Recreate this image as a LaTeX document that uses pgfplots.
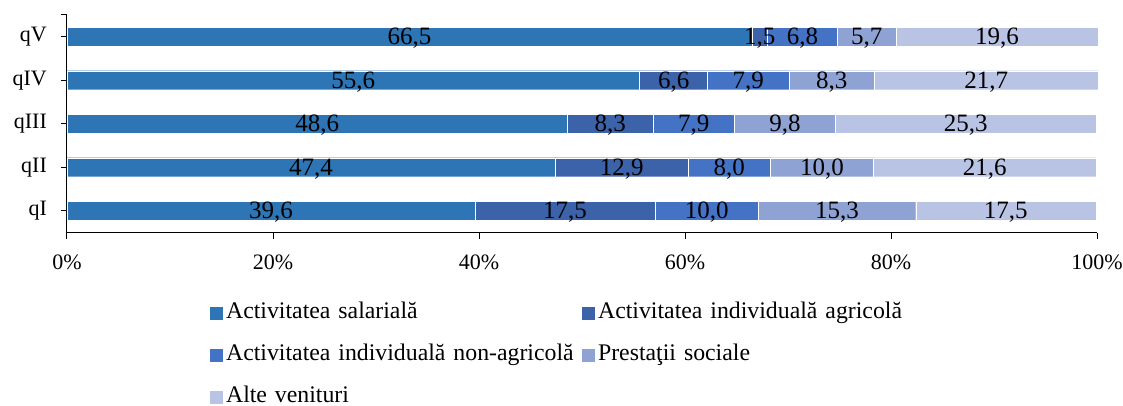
\documentclass[border=0pt]{standalone}
\usepackage{fontspec}
\setmainfont{Liberation Serif}
\usepackage{pgfplots}
\pgfplotsset{compat=1.18}
\usepackage{pgfplotstable}
\definecolor{c1}{RGB}{46,117,182}
\definecolor{c2}{RGB}{60,98,170}
\definecolor{c3}{RGB}{68,114,196}
\definecolor{c4}{RGB}{142,163,211}
\definecolor{c5}{RGB}{185,195,228}
\pgfplotstableread{
q sal agr nag pre alt
0 39.6 17.5 10.0 15.3 17.5
1 47.4 12.9 8.0 10.0 21.6
2 48.6 8.3 7.9 9.8 25.3
3 55.6 6.6 7.9 8.3 21.7
4 66.5 1.5 6.8 5.7 19.6
}\data
\pgfplotsset{
  seg/.style={fill=#1, draw=white, line width=0.4pt,
    nodes near coords={\pgfmathprintnumber[fixed,fixed zerofill,precision=1,use comma]{\pgfplotspointmeta}},
    nodes near coords align={center},
    point meta=rawx,
    every node near coord/.style={anchor=center, text=black, inner sep=0pt, yshift=-1.5pt,
      font=\fontsize{25}{30}\selectfont},
  },
}
\begin{document}
\fontsize{23.8}{28}\selectfont
\begin{tikzpicture}
\begin{axis}[
  xbar stacked, bar width=19pt, clip=false,
  scale only axis, width=1030pt, height=217.5pt,
  xmin=0, xmax=100, ymin=-0.5, ymax=4.5,
  ytick={0,...,4}, yticklabels={qI,qII,qIII,qIV,qV},
  extra y ticks={4.5}, extra y tick labels={},
  xtick={0,20,...,100}, xticklabel={\pgfmathprintnumber{\tick}\%},
  tick label style={font=\fontsize{22}{26}\selectfont},
  xticklabel style={yshift=-8pt},
  yticklabel style={xshift=-6pt},
  /pgf/number format/assume math mode=true,
  axis lines*=left,
  axis line style={black, line width=1pt},
  tick style={black, line width=1pt},
  tick align=outside, major tick length=6pt,
  legend style={draw=none, fill=none, at={(0.1358,-0.30)}, anchor=north west,
    legend columns=2, legend cell align=left,
    nodes={text height=16pt, text depth=6pt, inner sep=3pt, text width=353pt},
    row sep=14pt,
    /tikz/every even column/.append style={column sep=0pt}},
  legend image code/.code={\fill[#1,draw=none] (0pt,-6.5pt) rectangle (13pt,6.5pt);},
]
\addplot[seg=c1] table[x=sal, y=q] {\data};
\addplot[seg=c2] table[x=agr, y=q] {\data};
\addplot[seg=c3] table[x=nag, y=q] {\data};
\addplot[seg=c4] table[x=pre, y=q] {\data};
\addplot[seg=c5] table[x=alt, y=q] {\data};
\legend{Activitatea salarială, Activitatea individuală agricolă, Activitatea individuală non-agricolă, Prestaţii sociale, Alte venituri}
\end{axis}
\pgfresetboundingbox
\path (current axis.south west) ++(-67pt,-173.5pt) rectangle ++(1123pt,406pt);
\end{tikzpicture}
\end{document}
